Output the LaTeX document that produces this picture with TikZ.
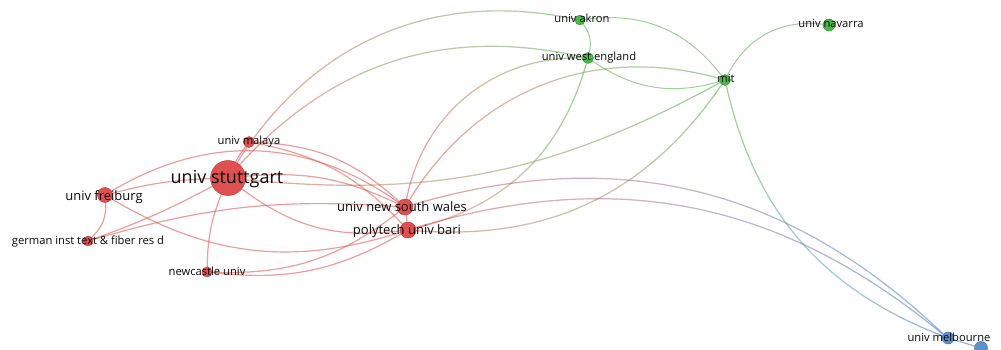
\documentclass[tikz,border=0pt]{standalone}
\usepackage{fontspec}
\setmainfont{Open Sans}
\usetikzlibrary{fadings}
\pgfdeclarelayer{bg}
\pgfsetlayers{bg,main}
\definecolor{vred}{RGB}{222,62,62}
\definecolor{vgreen}{RGB}{52,178,52}
\definecolor{vblue}{RGB}{74,134,200}
\definecolor{ered}{RGB}{222,95,90}
\definecolor{egreen}{RGB}{95,175,85}
\definecolor{eblue}{RGB}{80,130,200}
\definecolor{labc}{RGB}{10,10,10}
\newcommand\gradedge[5]{%
  \draw[edgeline, #4, path fading=east] (#1) to[#3] (#2);
  \draw[edgeline, #5, path fading=west] (#1) to[#3] (#2);
}
\tikzset{
  vnode/.style={circle, inner sep=0pt, minimum size=#1, fill=vred, draw=vred!80!black, line width=0.4pt, fill opacity=0.9},
  gnode/.style={circle, inner sep=0pt, minimum size=#1, fill=vgreen, draw=vgreen!80!black, line width=0.4pt, fill opacity=0.9},
  bnode/.style={circle, inner sep=0pt, minimum size=#1, fill=vblue, draw=vblue!80!black, line width=0.4pt, fill opacity=0.9},
  lab/.style={anchor=base, inner sep=0pt, text=labc},
  smalllab/.style={lab, font=\fontsize{11.2}{12}\selectfont},
  midlab/.style={lab, font=\fontsize{13}{14}\selectfont},
  biglab/.style={lab, font=\fontsize{18}{20}\selectfont},
  edgeline/.style={line width=1.2pt, draw opacity=0.6},
  redge/.style={edgeline, ered},
  gedge/.style={edgeline, egreen, line width=1pt},
  bedge/.style={edgeline, eblue},
}
\begin{document}
\begin{tikzpicture}[x=1pt, y=-1pt]
\begin{pgfonlayer}{bg}
\fill[white] (0,0) rectangle (1001,350);
\end{pgfonlayer}
\useasboundingbox (0,0) rectangle (1001,350);
% nodes
\node[vnode=35] (stu) at (228,178) {};
\node[vnode=11] (mal) at (249,142) {};
\node[vnode=15] (fre) at (105,195) {};
\node[vnode=10] (ger) at (88,241) {};
\node[vnode=10] (new) at (207,272) {};
\node[vnode=16] (nsw) at (405,207) {};
\node[vnode=16] (bari) at (408,230) {};
\node[gnode=10] (akr) at (580,20) {};
\node[gnode=11] (weng) at (588,58) {};
\node[gnode=11] (mit) at (725,80) {};
\node[gnode=12] (nav) at (829,25) {};
\node[bnode=12] (melb) at (948,338) {};
\node[bnode=13] (bl) at (981,348) {};
% edges
\begin{pgfonlayer}{bg}
\draw[redge] (stu) to[bend left=5] (mal);
\draw[redge] (fre) to[bend left=6] (stu);
\draw[redge] (ger) to[bend right=4] (stu);
\draw[redge] (ger) to[bend right=25] (fre);
\draw[redge] (stu) to[bend right=10] (new);
\draw[redge] (stu) to[bend left=15] (nsw);
\draw[redge] (stu) to[bend right=22] (bari);
\draw[redge] (mal) to[bend left=20] (nsw);
\draw[redge] (mal) to[bend left=18] (bari);
\draw[redge] (fre) to[bend left=33] (nsw);
\draw[redge] (fre) to[bend right=24] (bari);
\draw[redge] (ger) to[bend left=10] (nsw);
\draw[redge] (new) to[bend right=20] (nsw);
\draw[redge] (new) to[bend right=18] (bari);
\draw[redge] (nsw) -- (bari);
\gradedge{stu}{akr}{bend left=35}{ered}{egreen}
\gradedge{stu}{weng}{bend left=30}{ered}{egreen}
\gradedge{stu}{mit}{bend right=17}{ered}{egreen}
\gradedge{nsw}{mit}{bend left=37}{ered}{egreen}
\gradedge{nsw}{weng}{bend left=40}{ered}{egreen}
\gradedge{bari}{weng}{bend right=30}{ered}{egreen}
\gradedge{bari}{mit}{bend right=30}{ered}{egreen}
\gradedge{nsw}{melb}{bend left=30}{ered}{eblue}
\gradedge{bari}{melb}{bend left=28}{ered}{eblue}
\gradedge{mit}{melb}{bend right=28}{egreen}{eblue}
\draw[gedge] (akr) to[bend left=25] (weng);
\draw[gedge] (akr) to[bend left=30] (mit);
\draw[gedge] (weng) to[bend right=25] (mit);
\draw[gedge] (mit) to[bend left=35] (nav);
\draw[bedge] (melb) -- (bl);
\end{pgfonlayer}
% labels
\node[biglab] (stu-l) at (227,183) {univ stuttgart};
\node[smalllab] (mal-l) at (249,145) {univ malaya};
\node[midlab] (fre-l) at (104,200) {univ freiburg};
\node[smalllab] (ger-l) at (88,244) {german inst text \& fiber res d};
\node[smalllab] (new-l) at (207,275) {newcastle univ};
\node[midlab] (nsw-l) at (402,211) {univ new south wales};
\node[midlab] (bari-l) at (407,234) {polytech univ bari};
\node[smalllab] (akr-l) at (582,23) {univ akron};
\node[smalllab] (weng-l) at (589,61) {univ west england};
\node[smalllab] (mit-l) at (726,83) {mit};
\node[smalllab] (nav-l) at (831,28) {univ navarra};
\node[smalllab] (melb-l) at (949,341) {univ melbourne};
\end{tikzpicture}
\end{document}
